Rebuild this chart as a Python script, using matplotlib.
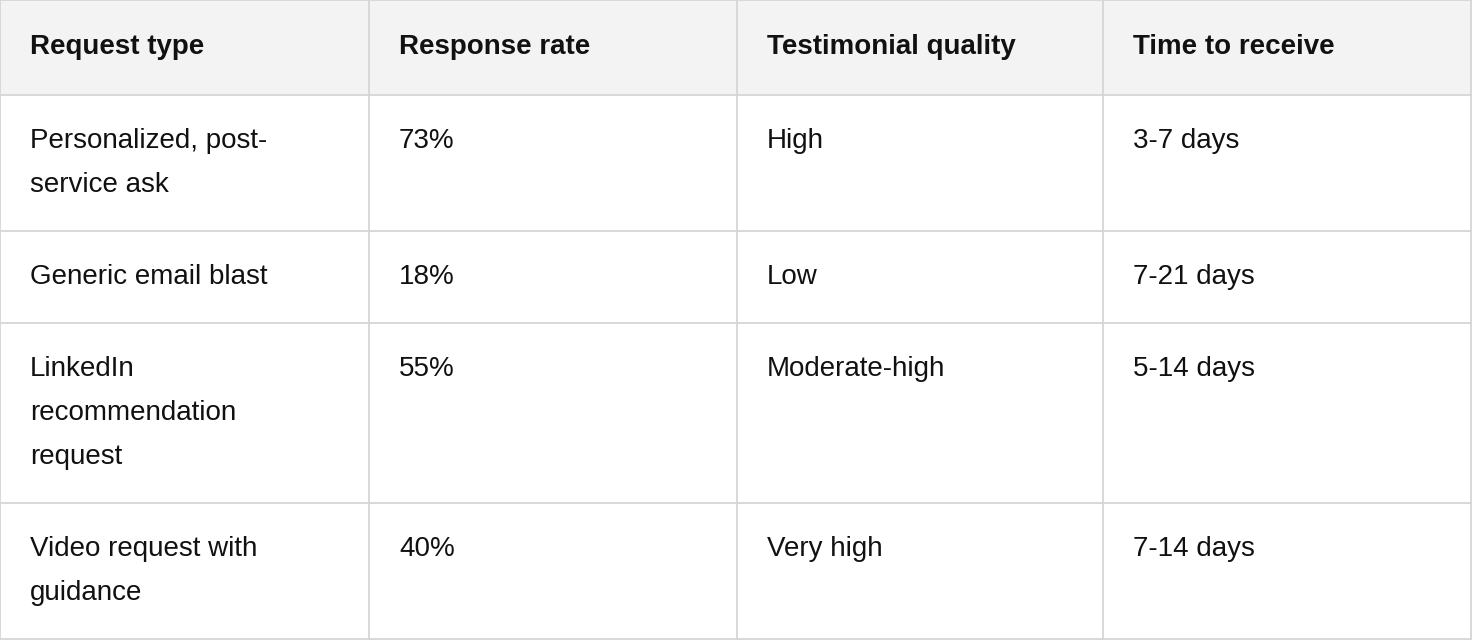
import matplotlib
matplotlib.use("Agg")
import matplotlib.pyplot as plt
from matplotlib.patches import Rectangle

headers = ["Request type", "Response rate", "Testimonial quality", "Time to receive"]
request_types = ["Personalized, post-\nservice ask", "Generic email blast",
                 "LinkedIn\nrecommendation\nrequest", "Video request with\nguidance"]
response_rates = ["73%", "18%", "55%", "40%"]
qualities = ["High", "Low", "Moderate-high", "Very high"]
times = ["3-7 days", "7-21 days", "5-14 days", "7-14 days"]

W, H = 1472, 642
col_x = [0, 369, 737, 1103, 1471]
row_y = [0, 95, 231, 323, 503, 639]

fig = plt.figure(figsize=(W/100, H/100), dpi=100)
ax = fig.add_axes([0, 0, 1, 1])
ax.set_xlim(0, W); ax.set_ylim(H, 0); ax.axis("off")

ax.add_patch(Rectangle((0, 0), W-1, row_y[1], facecolor="#f3f3f3", edgecolor="none"))
lc = "#d6d6d6"
for y in row_y:
    ax.plot([0, col_x[-1]], [y, y], color=lc, lw=1.3)
for x in col_x:
    ax.plot([x, x], [0, row_y[-1]], color=lc, lw=1.3)

font = dict(family=["Liberation Sans", "DejaVu Sans"], fontsize=20, color="#111111")
for j, h in enumerate(headers):
    ax.text(col_x[j] + 30, 47, h, va="center", ha="left", fontweight="bold", **font)

rows = list(zip(request_types, response_rates, qualities, times))
for i, row in enumerate(rows):
    top = row_y[i + 1]
    for j, cell in enumerate(row):
        for k, line in enumerate(cell.split("\n")):
            ax.text(col_x[j] + 30, top + 46 + k * 44, line, va="center", ha="left", **font)

fig.savefig("out.png", dpi=100)
